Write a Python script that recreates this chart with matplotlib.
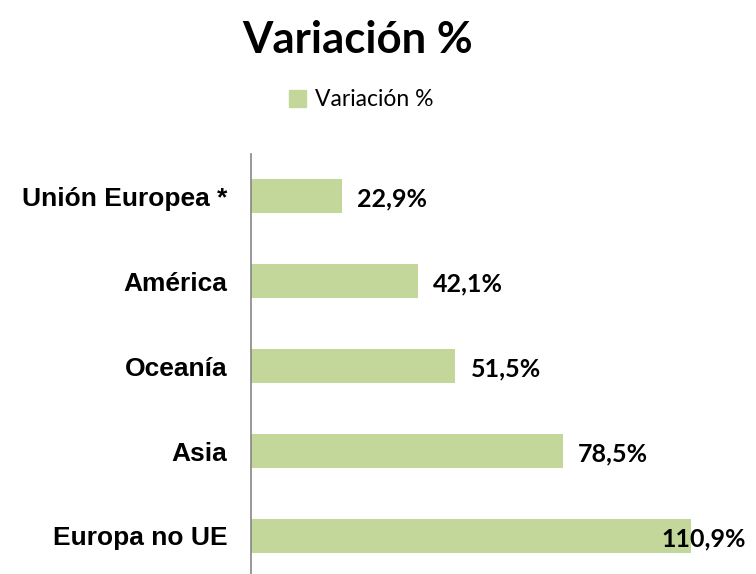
import matplotlib
matplotlib.use("Agg")
import matplotlib.pyplot as plt
from matplotlib.patches import Patch

categories = ["Unión Europea *", "América", "Oceanía", "Asia", "Europa no UE"]
values = [22.9, 42.1, 51.5, 78.5, 110.9]
labels = ["22,9%", "42,1%", "51,5%", "78,5%", "110,9%"]
series_name = "Variación %"
color = "#C4D79B"

fig = plt.figure(figsize=(7.56, 5.74), dpi=100)
ax = fig.add_axes([251/756, 1-578.5/574, 495/756, 425/574])

y = list(range(len(categories)))
ax.barh(y, values, height=0.4, color=color)
ax.set_ylim(len(categories)-0.5, -0.5)
ax.set_xlim(0, 124.7)
ax.set_yticks(y)
ax.set_yticklabels(categories, fontfamily="Liberation Sans", fontweight="bold", fontsize=19)
ax.tick_params(axis="y", length=0, pad=17)
ax.set_xticks([])
for s in ["top", "right", "bottom"]:
    ax.spines[s].set_visible(False)
ax.spines["left"].set_color("#868686")
ax.spines["left"].set_linewidth(1.2)

for i, (v, lab) in enumerate(zip(values, labels)):
    off = -30 if i == len(values) - 1 else 15
    ax.annotate(lab, (v, i), xytext=(off, -3), textcoords="offset pixels",
                ha="left", va="center", fontfamily="Lato", fontweight="bold", fontsize=18)

fig.text(358/756, 1-40/574, series_name, ha="center", va="center",
         fontfamily="Lato", fontweight="bold", fontsize=31.5)
fig.legend(handles=[Patch(color=color, label=series_name)], loc="center",
           bbox_to_anchor=(361/756, 1-100/574), frameon=False,
           prop={"family": "Lato", "size": 16.5}, handlelength=0.75, handleheight=0.75,
           handletextpad=0.4)

fig.savefig("out.png", dpi=100)
